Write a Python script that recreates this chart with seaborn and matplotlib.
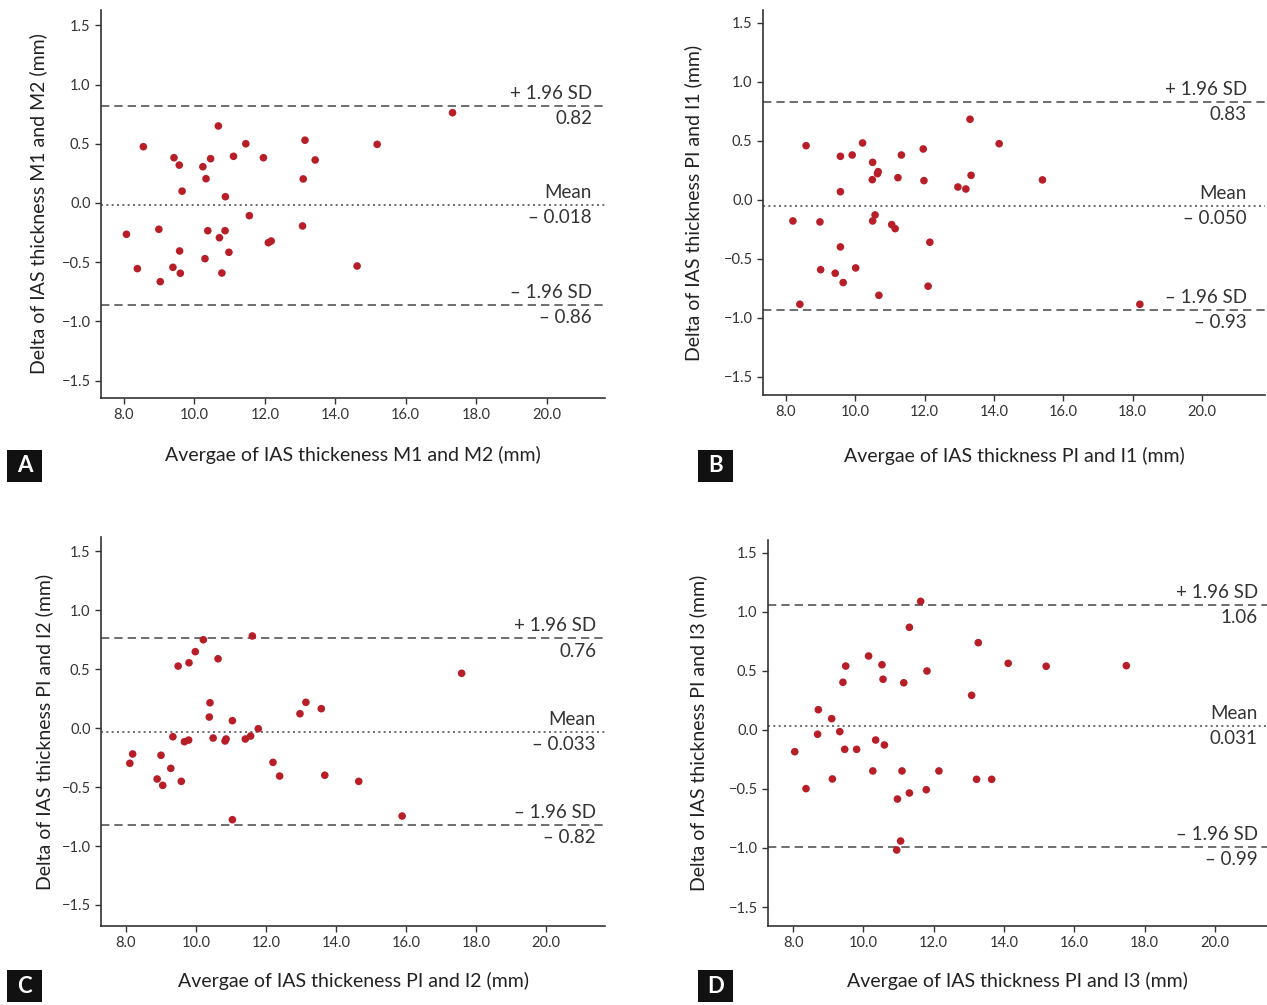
import matplotlib
matplotlib.use("Agg")
import matplotlib.pyplot as plt
import matplotlib.transforms as mtransforms
from matplotlib.patches import Rectangle
import seaborn as sns
import pandas as pd

# ---------------- data ----------------
a_x = [8.55, 9.42, 9.57, 9.65, 10.68, 10.46, 10.24, 10.33, 10.88, 11.11, 11.46, 11.96, 13.14, 13.43,
       13.09, 15.19, 8.07, 8.38, 8.99, 9.03, 9.58, 9.39, 9.60, 10.38, 10.71, 10.87, 10.30, 10.98,
       10.78, 11.56, 12.10, 12.18, 13.07, 14.62, 17.33]
a_y = [0.475, 0.382, 0.32, 0.10, 0.65, 0.374, 0.306, 0.205, 0.053, 0.394, 0.50, 0.382, 0.53, 0.363,
       0.203, 0.495, -0.264, -0.554, -0.222, -0.664, -0.405, -0.543, -0.593, -0.234, -0.293, -0.234,
       -0.47, -0.416, -0.591, -0.107, -0.335, -0.321, -0.194, -0.532, 0.762]

b_x = [8.58, 9.57, 9.91, 10.21, 9.57, 10.50, 10.66, 10.64, 10.49, 11.33, 11.23, 11.96, 11.98, 13.31,
       12.96, 13.19, 13.34, 14.15, 15.40, 8.20, 8.98, 10.57, 10.50, 11.05, 11.15, 9.57, 12.15, 9.00,
       9.42, 10.01, 9.65, 12.10, 10.68, 8.40, 18.21]
b_y = [0.46, 0.37, 0.381, 0.483, 0.07, 0.319, 0.24, 0.223, 0.172, 0.381, 0.189, 0.432, 0.164, 0.684,
       0.11, 0.093, 0.209, 0.477, 0.17, -0.178, -0.186, -0.127, -0.178, -0.209, -0.243, -0.398, -0.358,
       -0.591, -0.621, -0.576, -0.70, -0.731, -0.808, -0.884, -0.884]

c_x = [9.49, 9.80, 9.98, 10.21, 10.63, 11.61, 10.40, 10.38, 11.04, 11.78, 9.34, 9.67, 9.79, 10.49,
       10.83, 10.86, 11.41, 11.56, 8.19, 8.11, 9.00, 9.28, 8.89, 9.05, 9.58, 12.20, 12.39, 12.97,
       13.14, 13.58, 13.68, 14.65, 11.04, 17.59, 15.89]
c_y = [0.525, 0.553, 0.647, 0.748, 0.587, 0.78, 0.214, 0.093, 0.062, -0.006, -0.074, -0.116, -0.102,
       -0.085, -0.11, -0.093, -0.093, -0.068, -0.22, -0.299, -0.231, -0.342, -0.432, -0.486, -0.452,
       -0.291, -0.407, 0.121, 0.218, 0.164, -0.40, -0.452, -0.777, 0.464, -0.746]

d_x = [11.63, 11.31, 13.27, 10.15, 10.53, 9.50, 11.81, 14.12, 15.20, 9.42, 10.56, 11.15, 13.08, 8.72,
       9.10, 9.33, 8.70, 8.05, 9.47, 9.81, 10.35, 10.60, 10.27, 11.10, 12.15, 8.37, 9.12, 13.22,
       13.65, 10.97, 11.31, 11.79, 11.06, 10.95, 17.48]
d_y = [1.09, 0.87, 0.74, 0.627, 0.553, 0.542, 0.50, 0.565, 0.54, 0.404, 0.43, 0.40, 0.294, 0.172,
       0.096, -0.014, -0.036, -0.184, -0.164, -0.164, -0.085, -0.127, -0.347, -0.347, -0.347, -0.497,
       -0.415, -0.418, -0.418, -0.585, -0.534, -0.506, -0.941, -1.017, 0.545]

upper = [0.82, 0.83, 0.76, 1.06]
mean = [-0.018, -0.050, -0.033, 0.031]
lower = [-0.86, -0.93, -0.82, -0.99]
upper_txt = ["0.82", "0.83", "0.76", "1.06"]
mean_txt = ["\u2013 0.018", "\u2013 0.050", "\u2013 0.033", "0.031"]
lower_txt = ["\u2013 0.86", "\u2013 0.93", "\u2013 0.82", "\u2013 0.99"]

xlabels = ["Avergae of IAS thickeness M1 and M2 (mm)",
           "Avergae of IAS thickness PI and I1 (mm)",
           "Avergae of IAS thickeness PI and I2 (mm)",
           "Avergae of IAS thickness PI and I3 (mm)"]
ylabels = ["Delta of IAS thickness M1 and M2 (mm)",
           "Delta of IAS thickness PI and I1 (mm)",
           "Delta of IAS thickness PI and I2 (mm)",
           "Delta of IAS thickness PI and I3 (mm)"]
letters = ["A", "B", "C", "D"]
xticks = [8.0, 10.0, 12.0, 14.0, 16.0, 18.0, 20.0]
yticks = [-1.5, -1.0, -0.5, 0.0, 0.5, 1.0, 1.5]

# ---------------- style ----------------
sns.set_theme(style="ticks")
plt.rcParams['font.family'] = ['Lato', 'DejaVu Sans']
plt.rcParams['axes.unicode_minus'] = True

W, H = 1267, 1005
fig = plt.figure(figsize=(W / 100, H / 100), dpi=100)

# pixel layout: left, right, top, bottom of axes
boxes = [(101, 605, 10, 398), (763, 1265, 10, 395), (101, 605, 537, 926), (768, 1267, 540, 926)]
xlims = [(7.347, 21.66), (7.337, 21.82), (7.286, 21.686), (7.289, 21.48)]
ylims = [(-1.646, 1.629), (-1.653, 1.61), (-1.678, 1.619), (-1.661, 1.61)]
txt_x = [592, 1247, 596, 1258]
xlab_y = [455, 456, 981, 981]
ylab_x = [38, 693, 44, 698]
letter_pos = [(7, 450), (698, 450), (7, 970), (698, 970)]

datasets = [(a_x, a_y), (b_x, b_y), (c_x, c_y), (d_x, d_y)]
dot_color = "#B81E27"
line_color = "#555555"

for i, (xs, ys) in enumerate(datasets):
    l, r, t, b = boxes[i]
    ax = fig.add_axes([l / W, 1 - b / H, (r - l) / W, (b - t) / H])
    df = pd.DataFrame({"x": xs, "y": ys})
    sns.scatterplot(data=df, x="x", y="y", ax=ax, color=dot_color, s=30,
                    edgecolor="none", linewidth=0, zorder=3)
    ax.set_xlim(*xlims[i])
    ax.set_ylim(*ylims[i])
    ax.set_xticks(xticks)
    ax.set_xticklabels([f"{v:.1f}" for v in xticks])
    ax.set_yticks(yticks)
    ax.set_yticklabels([f"{v:.1f}".replace("-", "\u2212") for v in yticks])
    ax.tick_params(axis="both", labelsize=10.5, colors="#333333", length=4, width=1,
                   labelcolor="#333333")
    for side in ["top", "right"]:
        ax.spines[side].set_visible(False)
    for side in ["left", "bottom"]:
        ax.spines[side].set_color("#333333")
        ax.spines[side].set_linewidth(1.2)

    ax.axhline(upper[i], color=line_color, ls=(0, (5, 3)), lw=1.2, zorder=2)
    ax.axhline(lower[i], color=line_color, ls=(0, (5, 3)), lw=1.2, zorder=2)
    ax.axhline(mean[i], color=line_color, ls=(0, (1.2, 2)), lw=1.2, zorder=2)

    tx = (txt_x[i] - l) / (r - l)
    trans = mtransforms.blended_transform_factory(ax.transAxes, ax.transData)
    fs = 13.5
    tc = "#333333"
    ax.annotate("+ 1.96 SD", (tx, upper[i]), xycoords=trans, xytext=(0, 3),
                textcoords="offset points", ha="right", va="bottom", fontsize=fs, color=tc)
    ax.annotate(upper_txt[i], (tx, upper[i]), xycoords=trans, xytext=(0, -3),
                textcoords="offset points", ha="right", va="top", fontsize=fs, color=tc)
    ax.annotate("Mean", (tx, mean[i]), xycoords=trans, xytext=(0, 3),
                textcoords="offset points", ha="right", va="bottom", fontsize=fs, color=tc)
    ax.annotate(mean_txt[i], (tx, mean[i]), xycoords=trans, xytext=(0, -3),
                textcoords="offset points", ha="right", va="top", fontsize=fs, color=tc)
    ax.annotate("\u2013 1.96 SD", (tx, lower[i]), xycoords=trans, xytext=(0, 3),
                textcoords="offset points", ha="right", va="bottom", fontsize=fs, color=tc)
    ax.annotate(lower_txt[i], (tx, lower[i]), xycoords=trans, xytext=(0, -3),
                textcoords="offset points", ha="right", va="top", fontsize=fs, color=tc)

    ax.set_xlabel(xlabels[i], fontsize=14, color="#222222")
    ax.set_ylabel(ylabels[i], fontsize=14, color="#222222")
    ax.xaxis.label.set_va("center")
    ax.yaxis.label.set_va("center")
    ax.xaxis.set_label_coords(0.5, -(xlab_y[i] - b) / (b - t))
    ax.yaxis.set_label_coords(-(l - ylab_x[i]) / (r - l), 0.5)

    lx, ly = letter_pos[i]
    fig.patches.append(Rectangle((lx / W, 1 - (ly + 32) / H), 35 / W, 32 / H,
                                 transform=fig.transFigure, facecolor="#111111",
                                 edgecolor="none", zorder=5))
    fig.text((lx + 17.5) / W, 1 - (ly + 16) / H, letters[i], color="white",
             fontsize=16, fontweight="bold", ha="center", va="center", zorder=6)

fig.savefig("out.png", dpi=100, facecolor="white")
